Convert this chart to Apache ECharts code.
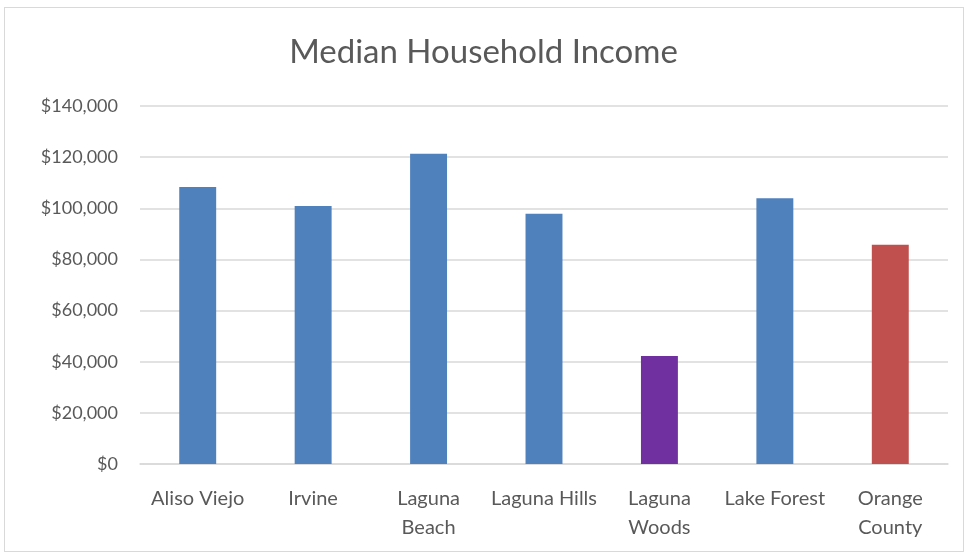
<!DOCTYPE html>
<html>
<head>
<meta charset="utf-8">
<script src="https://cdn.jsdelivr.net/npm/echarts@6/dist/echarts.min.js"></script>
<style>
  html, body { margin: 0; padding: 0; background: #fff; }
  #frame { position: absolute; left: 4px; top: 7px; width: 960px; height: 545px; border: 1.5px solid #d9d9d9; box-sizing: border-box; }
  #chart { position: absolute; left: 0; top: 0; width: 967px; height: 556px; }
</style>
</head>
<body>
<div id="frame"></div>
<div id="chart"></div>
<script>
// categories as shown (Excel wraps the long names)
var places = ['Aliso Viejo', 'Irvine', 'Laguna\nBeach', 'Laguna Hills', 'Laguna\nWoods', 'Lake Forest', 'Orange\nCounty']
var income = [108300, 100900, 121300, 97900, 42200, 103900, 85700]
var barColors = ['#4f81bd', '#4f81bd', '#4f81bd', '#4f81bd', '#7030a0', '#4f81bd', '#c0504d']
var yTicks = { min: 0, max: 140000, interval: 20000 }

var font = 'Lato, "Open Sans", sans-serif'
var myChart = echarts.init(document.getElementById('chart'))
myChart.setOption({
  animation: false,
  title: {
    text: 'Median Household Income',
    left: 'center',
    top: 31,
    textStyle: { fontFamily: font, fontSize: 33, fontWeight: 'normal', color: '#595959' }
  },
  grid: { left: 140, right: 19, top: 106, bottom: 92 },
  xAxis: {
    type: 'category',
    data: places,
    axisLine: { lineStyle: { color: '#d9d9d9', width: 1.5 } },
    axisTick: { show: false },
    axisLabel: {
      interval: 0,
      margin: 20,
      fontFamily: font,
      fontSize: 20,
      lineHeight: 29,
      color: '#595959'
    }
  },
  yAxis: {
    type: 'value',
    min: yTicks.min,
    max: yTicks.max,
    interval: yTicks.interval,
    axisLine: { show: false },
    axisTick: { show: false },
    splitLine: { lineStyle: { color: '#d9d9d9', width: 1.5 } },
    axisLabel: {
      margin: 22,
      fontFamily: font,
      fontSize: 18,
      color: '#595959',
      formatter: function (v) { return '$' + v.toLocaleString('en-US') }
    }
  },
  series: [{
    type: 'bar',
    barWidth: '32%',
    data: income.map(function (v, i) {
      return { value: v, itemStyle: { color: barColors[i] } }
    })
  }]
})
</script>
</body>
</html>
